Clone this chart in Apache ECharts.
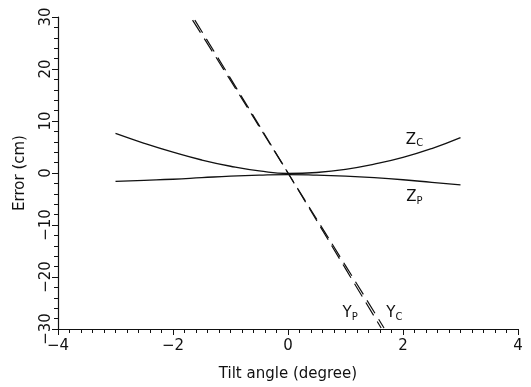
<!DOCTYPE html>
<html>
<head>
<meta charset="utf-8">
<script src="https://cdn.jsdelivr.net/npm/echarts@6/dist/echarts.min.js"></script>
<style>
  html, body { margin: 0; padding: 0; background: #fff; }
  #chart { width: 531px; height: 387px; }
</style>
</head>
<body>
<div id="chart"></div>
<script>
// Tilt angle (degree) sample positions for the Z curves
const zAngles = [-3, -2.5, -2, -1.5, -1, -0.5, 0, 0.5, 1, 1.5, 2, 2.5, 3];
// Error (cm) in Z, camera and projector models
const zcError = [7.6, 5.7, 4.0, 2.5, 1.3, 0.4, -0.1, 0.1, 0.7, 1.7, 3.0, 4.7, 6.8];
const zpError = [-1.6, -1.4, -1.2, -0.9, -0.6, -0.4, -0.3, -0.4, -0.6, -0.9, -1.3, -1.8, -2.3];
// Error (cm) in Y, nearly linear in tilt
const ycAngles = [-1.66, -1.0, 0, 1.0, 1.67];
const ycError = [29.4, 17.8, 0.0, -17.8, -29.8];
const ypAngles = [-1.62, -1.0, 0, 1.0, 1.62];
const ypError = [29.4, 18.2, 0.0, -18.4, -29.8];
// Axis ticks
const xTicks = [-4, -2, 0, 2, 4];
const yTicks = [-30, -20, -10, 0, 10, 20, 30];

const FONT = 'DejaVu Sans';
const INK = '#111';

const pairs = (xs, ys) => xs.map((x, i) => [x, ys[i]]);

const richSub = {
  b: { fontFamily: FONT, fontSize: 15, color: INK },
  s: { fontFamily: FONT, fontSize: 10, color: INK, padding: [8, 0, 0, 0] }
};

// Curve name tag placed at a data coordinate
function tag(main, sub, x, y) {
  return {
    symbol: 'circle',
    symbolSize: 1,
    itemStyle: { color: 'rgba(0,0,0,0)' },
    silent: true,
    data: [{ coord: [x, y] }],
    label: {
      show: true,
      position: 'inside',
      formatter: '{b|' + main + '}{s|' + sub + '}',
      rich: richSub
    }
  };
}

const chart = echarts.init(document.getElementById('chart'), null, { renderer: 'canvas' });

const axisCommon = {
  axisLine: { show: true, onZero: false, lineStyle: { color: INK, width: 1.2 } },
  axisTick: { show: true, inside: false, length: 6, lineStyle: { color: INK, width: 1 } },
  minorTick: { show: true, length: 4, lineStyle: { color: INK, width: 1 } },
  splitLine: { show: false },
  minorSplitLine: { show: false },
  axisLabel: { color: INK, fontFamily: FONT, fontSize: 15 },
  nameTextStyle: { color: INK, fontFamily: FONT, fontSize: 15 }
};

const signed = v => (v < 0 ? '\u2212' + Math.abs(v) : String(v));

chart.setOption({
  animation: false,
  backgroundColor: '#fff',
  grid: { left: 58, right: 13, top: 17, bottom: 55 },
  xAxis: Object.assign({}, axisCommon, {
    type: 'value',
    min: xTicks[0],
    max: xTicks[xTicks.length - 1],
    interval: 2,
    minorTick: Object.assign({}, axisCommon.minorTick, { splitNumber: 10 }),
    axisLabel: Object.assign({}, axisCommon.axisLabel, { margin: 10, formatter: signed }),
    name: 'Tilt angle (degree)',
    nameLocation: 'middle',
    nameGap: 38
  }),
  yAxis: Object.assign({}, axisCommon, {
    type: 'value',
    min: yTicks[0],
    max: yTicks[yTicks.length - 1],
    interval: 10,
    minorTick: Object.assign({}, axisCommon.minorTick, { splitNumber: 5 }),
    axisLabel: Object.assign({}, axisCommon.axisLabel, {
      rotate: 90,
      margin: 4,
      verticalAlign: 'bottom',
      formatter: signed
    }),
    name: 'Error (cm)',
    nameLocation: 'middle',
    nameRotate: 90,
    nameGap: 30
  }),
  series: [
    {
      name: 'Zc', type: 'line', smooth: true, symbol: 'none',
      data: pairs(zAngles, zcError),
      lineStyle: { color: INK, width: 1.3 },
      markPoint: tag('Z', 'C', 2.2, 6.4)
    },
    {
      name: 'Zp', type: 'line', smooth: true, symbol: 'none',
      data: pairs(zAngles, zpError),
      lineStyle: { color: INK, width: 1.3 },
      markPoint: tag('Z', 'P', 2.2, -4.7)
    },
    {
      name: 'Yc', type: 'line', smooth: true, symbol: 'none',
      data: pairs(ycAngles, ycError),
      lineStyle: { color: INK, width: 1.2, type: [15, 7] },
      markPoint: tag('Y', 'C', 1.85, -27)
    },
    {
      name: 'Yp', type: 'line', smooth: true, symbol: 'none',
      data: pairs(ypAngles, ypError),
      lineStyle: { color: INK, width: 1.2, type: [15, 7] },
      markPoint: tag('Y', 'P', 1.08, -27)
    }
  ]
});
</script>
</body>
</html>
